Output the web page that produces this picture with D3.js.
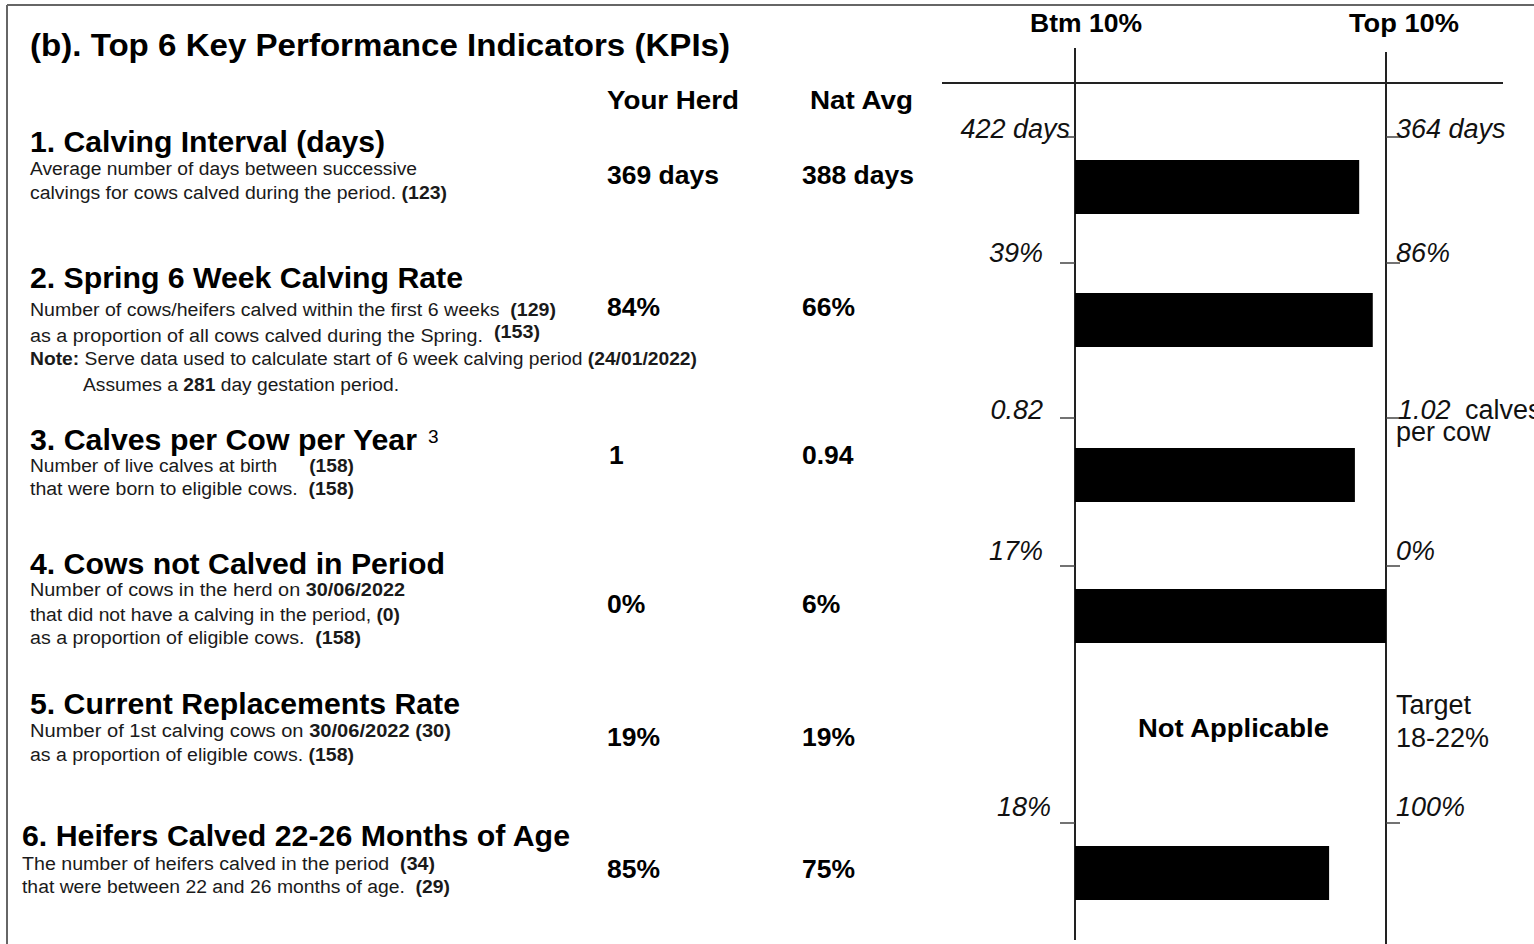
<!DOCTYPE html>
<html><head><meta charset="utf-8">
<script src="https://cdn.jsdelivr.net/npm/d3@7"></script>
<style>body{margin:0;background:#fff}svg{display:block}text{font-family:"Liberation Sans",Arial,sans-serif}</style>
</head><body>
<svg id="c" width="1534" height="944"></svg>
<script>
// ---------- DATA ----------
const title = "(b). Top 6 Key Performance Indicators (KPIs)";
const colHeaders = ["Your Herd", "Nat Avg"];
const scaleHeaders = ["Btm 10%", "Top 10%"];
const kpis = ["1. Calving Interval (days)", "2. Spring 6 Week Calving Rate", "3. Calves per Cow per Year",
  "4. Cows not Calved in Period", "5. Current Replacements Rate", "6. Heifers Calved 22-26 Months of Age"];
const yourHerd = ["369 days", "84%", "1", "0%", "19%", "85%"];
const natAvg = ["388 days", "66%", "0.94", "6%", "19%", "75%"];
const herdValue = [369, 84, 1, 0, null, 85];
const btmValue = [422, 39, 0.82, 17, null, 18];
const topValue = [364, 86, 1.02, 0, null, 100];
const btmLabels = ["422 days", "39%", "0.82", "17%", "", "18%"];
const topLabels = ["364 days", "86%", "1.02", "0%", "", "100%"];
const topExtra = ["", "", "calves", "", "", ""];
const topExtra2 = ["", "", "per cow", "", "", ""];
const naLabel = "Not Applicable";
const targetLabel = ["Target", "18-22%"];
const descriptions = [
  [[["Average number of days between successive", 0]], [["calvings for cows calved during the period. ", 0], ["(123)", 1]]],
  [[["Number of cows/heifers calved within the first 6 weeks  ", 0], ["(129)", 1]],
   [["as a proportion of all cows calved during the Spring.  ", 0], ["(153)", 1, -4]],
   [["Note:", 1], [" Serve data used to calculate start of 6 week calving period ", 0], ["(24/01/2022)", 1]],
   [["Assumes a ", 0], ["281", 1], [" day gestation period.", 0]]],
  [[["Number of live calves at birth      ", 0], ["(158)", 1]], [["that were born to eligible cows.  ", 0], ["(158)", 1]]],
  [[["Number of cows in the herd on ", 0], ["30/06/2022", 1]], [["that did not have a calving in the period, ", 0], ["(0)", 1]],
   [["as a proportion of eligible cows.  ", 0], ["(158)", 1]]],
  [[["Number of 1st calving cows on ", 0], ["30/06/2022 (30)", 1]], [["as a proportion of eligible cows. ", 0], ["(158)", 1]]],
  [[["The number of heifers calved in the period  ", 0], ["(34)", 1]], [["that were between 22 and 26 months of age.  ", 0], ["(29)", 1]]]
];

// ---------- LAYOUT ----------
const W = 1534, H = 944;
const headX = [30, 30, 30, 30, 30, 22];
const headY = [152, 288, 450, 574, 714, 846];
const headW = [355, 433, 387, 415, 430, 548];
const descY = [[175, 199], [316, 342, 365, 391], [472, 495], [596, 621, 644], [737, 761], [870, 893]];
const descW = [[387, 417], [526, 510, 667, 316], [324, 324], [375, 370, 331], [421, 324], [413, 428]];
const descX = [[30, 30], [30, 30, 30, 83], [30, 30], [30, 30, 30], [30, 30], [22, 22]];
const valY = [184, 316, 464, 613, 746, 878];
const barTop = [160, 293, 448, 589, null, 846];
const tickY = [137, 263, 418, 566, null, 823];
const labY = [138, 262, 419, 560, null, 816];
const labRight = [1070, 1043, 1043, 1043, null, 1051];
const barH = 54;
const xL = 1075, xR = 1386;

const svg = d3.select("#c");
function txt(x, y, s, size, opts = {}) {
  const t = svg.append("text").attr("x", x).attr("y", y)
    .attr("font-size", size).attr("fill", opts.fill || "#000")
    .attr("font-weight", opts.bold ? "bold" : "normal")
    .attr("font-style", opts.italic ? "italic" : "normal")
    .attr("text-anchor", opts.anchor || "start");
  if (opts.w) t.attr("textLength", opts.w).attr("lengthAdjust", "spacingAndGlyphs");
  t.text(s);
  return t;
}

// frame
svg.append("line").attr("x1", 7).attr("x2", W).attr("y1", 5).attr("y2", 5).attr("stroke", "#666").attr("stroke-width", 2);
svg.append("line").attr("x1", 7).attr("x2", 7).attr("y1", 5).attr("y2", H).attr("stroke", "#666").attr("stroke-width", 2);

txt(30, 56, title, 32, { bold: true, w: 700 });
txt(607, 109, colHeaders[0], 26.5, { bold: true, w: 132 });
txt(810, 109, colHeaders[1], 26.5, { bold: true, w: 103 });
txt(1030, 32, scaleHeaders[0], 26, { bold: true, w: 112 });
txt(1349, 32, scaleHeaders[1], 26, { bold: true, w: 110 });

kpis.forEach((k, i) => {
  txt(headX[i], headY[i], k, 29, { bold: true, w: headW[i] });
  descriptions[i].forEach((line, j) => {
    const t = svg.append("text").attr("x", descX[i][j]).attr("y", descY[i][j])
      .attr("font-size", 18).attr("fill", "#1a1a1a")
      .attr("textLength", descW[i][j]).attr("lengthAdjust", "spacingAndGlyphs")
      .style("white-space", "pre");
    let cur = 0;
    line.forEach(seg => {
      const ts = t.append("tspan").attr("font-weight", seg[1] ? "bold" : "normal").text(seg[0]);
      const dy = (seg[2] || 0) - cur;
      if (dy) ts.attr("dy", dy);
      cur = seg[2] || 0;
    });
  });
  txt(i === 2 ? 609 : 607, valY[i], yourHerd[i], 26.5, { bold: true });
  txt(802, valY[i], natAvg[i], 26.5, { bold: true });
});
txt(428, 443, "3", 19, {});

// scale panel
svg.append("line").attr("x1", 942).attr("x2", 1503).attr("y1", 83).attr("y2", 83).attr("stroke", "#222").attr("stroke-width", 2);
svg.append("line").attr("x1", xL).attr("x2", xL).attr("y1", 48).attr("y2", 940).attr("stroke", "#222").attr("stroke-width", 2);
svg.append("line").attr("x1", xR).attr("x2", xR).attr("y1", 52).attr("y2", H).attr("stroke", "#222").attr("stroke-width", 2);

kpis.forEach((k, i) => {
  if (herdValue[i] === null) return;
  const x = d3.scaleLinear().domain([btmValue[i], topValue[i]]).range([xL, xR]).clamp(true);
  svg.append("rect").attr("x", x(btmValue[i])).attr("y", barTop[i])
    .attr("width", x(herdValue[i]) - x(btmValue[i])).attr("height", barH).attr("fill", "#000");
  svg.append("line").attr("x1", xL - 15).attr("x2", xL).attr("y1", tickY[i]).attr("y2", tickY[i]).attr("stroke", "#444").attr("stroke-width", 1.5);
  svg.append("line").attr("x1", xR).attr("x2", xR + 14).attr("y1", tickY[i]).attr("y2", tickY[i]).attr("stroke", "#444").attr("stroke-width", 1.5);
  txt(labRight[i], labY[i], btmLabels[i], 27, { italic: true, anchor: "end", fill: "#111" });
  txt(i === 2 ? 1398 : 1396, labY[i], topLabels[i], 27, { italic: true, fill: "#111" });
  if (topExtra[i]) {
    txt(1465, labY[i], topExtra[i], 27, { fill: "#111" });
    txt(1396, labY[i] + 22, topExtra2[i], 27, { fill: "#111" });
  }
});
txt(1138, 737, naLabel, 26, { bold: true, w: 191 });
txt(1396, 714, targetLabel[0], 27, { fill: "#111" });
txt(1396, 747, targetLabel[1], 27, { fill: "#111" });
</script>
</body></html>
